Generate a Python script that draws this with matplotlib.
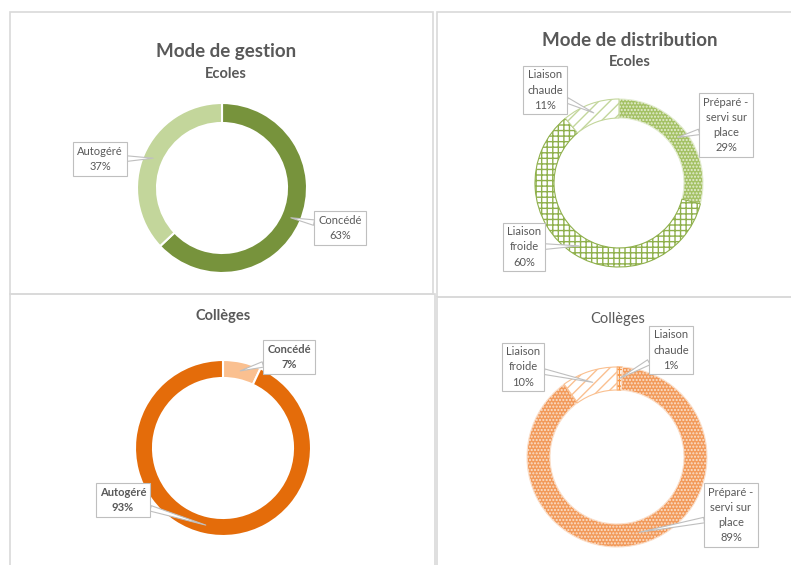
import numpy as np
import matplotlib
matplotlib.use("Agg")
import matplotlib.pyplot as plt
from matplotlib.patches import Rectangle

plt.rcParams['font.family'] = ['Lato', 'DejaVu Sans']
plt.rcParams['hatch.linewidth'] = 1.0

W, H = 791, 565
GREY = '#595959'
BORDER = '#D9D9D9'

# données
gestion_labels = ['Concédé', 'Autogéré']
gestion_ecoles = [63, 37]
gestion_colleges_labels = ['Concédé', 'Autogéré']
gestion_colleges = [7, 93]

distrib_ecoles_labels = ['Préparé -\nservi sur\nplace', 'Liaison\nfroide', 'Liaison\nchaude']
distrib_ecoles = [29, 60, 11]
distrib_colleges_labels = ['Liaison\nchaude', 'Préparé -\nservi sur\nplace', 'Liaison\nfroide']
distrib_colleges = [1, 89, 10]


def Y(y):
    # pixel depuis le haut -> coordonnee de l'axe
    return H - y


def donut(ax, values, center, r, width, styles):
    wedges, _ = ax.pie(values, startangle=90, counterclock=False, radius=r,
                       center=(center[0], Y(center[1])), frame=True,
                       wedgeprops=dict(width=width))
    for w, st in zip(wedges, styles):
        w.set_facecolor(st['fc'])
        w.set_edgecolor(st['ec'])
        w.set_linewidth(st.get('lw', 0.8))
        if 'hatch' in st:
            w.set_hatch(st['hatch'])
    anchors = []
    for w in wedges:
        th = np.deg2rad((w.theta1 + w.theta2) / 2)
        rr = r - width / 2
        anchors.append((center[0] + rr * np.cos(th), Y(center[1]) + rr * np.sin(th)))
    return anchors


def label(ax, text, anchor, pos, bold=False):
    ax.annotate(text, xy=anchor, xytext=(pos[0], Y(pos[1])), ha='center', va='center',
                fontsize=8, color=GREY, fontweight='bold' if bold else 'normal',
                linespacing=1.45,
                bbox=dict(boxstyle='square,pad=0.35', fc='white', ec='#BFBFBF', lw=0.8),
                arrowprops=dict(arrowstyle='wedge,tail_width=0.5', fc='white', ec='#BFBFBF',
                                lw=0.8, shrinkA=0, shrinkB=0), zorder=5)


fig = plt.figure(figsize=(W / 100, H / 100), dpi=100)
ax = fig.add_axes([0, 0, 1, 1])

# cadres
for (x0, y0, x1, y1) in [(10, 12, 433, 294), (10, 294, 435, 600),
                         (437, 12, 800, 297), (437, 297, 800, 600)]:
    ax.add_patch(Rectangle((x0, Y(y1)), x1 - x0, y1 - y0, fill=False, ec=BORDER, lw=1.2, zorder=0))

# Mode de gestion - Ecoles
a = donut(ax, gestion_ecoles, (222, 188), 85, 20,
          [dict(fc='#77933C', ec='white', lw=1.5), dict(fc='#C3D69B', ec='white', lw=1.5)])
label(ax, f'{gestion_labels[0]}\n{gestion_ecoles[0]}%', a[0], (340, 228))
label(ax, f'{gestion_labels[1]}\n{gestion_ecoles[1]}%', a[1], (100, 159))
ax.text(226, Y(51), 'Mode de gestion', ha='center', va='center', fontsize=13.5, fontweight='bold', color=GREY)
ax.text(226, Y(74), 'Ecoles', ha='center', va='center', fontsize=10.5, fontweight='bold', color=GREY)

# Mode de gestion - Collèges
a = donut(ax, gestion_colleges, (223, 448), 88, 18,
          [dict(fc='#FAC090', ec='white', lw=1.5), dict(fc='#E46C0A', ec='white', lw=1.5)])
label(ax, f'{gestion_colleges_labels[0]}\n{gestion_colleges[0]}%', a[0], (289, 357), bold=True)
label(ax, f'{gestion_colleges_labels[1]}\n{gestion_colleges[1]}%', a[1], (123, 500), bold=True)
ax.text(223, Y(316), 'Collèges', ha='center', va='center', fontsize=10.5, fontweight='bold', color=GREY)

# Mode de distribution - Ecoles
a = donut(ax, distrib_ecoles, (619, 183), 84, 19,
          [dict(fc='#A4C164', ec='#E4EDD2', hatch='.....'),
           dict(fc='white', ec='#8FB04C', hatch='+++'),
           dict(fc='white', ec='#C3D69B', hatch='///')])
label(ax, f'{distrib_ecoles_labels[0]}\n{distrib_ecoles[0]}%', a[0], (726, 125))
label(ax, f'{distrib_ecoles_labels[1]}\n{distrib_ecoles[1]}%', a[1], (524, 247))
label(ax, f'{distrib_ecoles_labels[2]}\n{distrib_ecoles[2]}%', a[2], (545, 90))
ax.text(630, Y(40), 'Mode de distribution', ha='center', va='center', fontsize=13.5, fontweight='bold', color=GREY)
ax.text(630, Y(62), 'Ecoles', ha='center', va='center', fontsize=10.5, fontweight='bold', color=GREY)

# Mode de distribution - Collèges
a = donut(ax, distrib_colleges, (617, 457), 90, 23,
          [dict(fc='white', ec='#F79646', hatch='+++'),
           dict(fc='#F29A5A', ec='#FBE0CC', hatch='.....'),
           dict(fc='white', ec='#FAC090', hatch='///')])
label(ax, f'{distrib_colleges_labels[0]}\n{distrib_colleges[0]}%', a[0], (671, 350))
label(ax, f'{distrib_colleges_labels[1]}\n{distrib_colleges[1]}%', a[1], (731, 515))
label(ax, f'{distrib_colleges_labels[2]}\n{distrib_colleges[2]}%', a[2], (523, 367))
ax.text(618, Y(319), 'Collèges', ha='center', va='center', fontsize=10.5, color=GREY)

ax.set_xlim(0, W)
ax.set_ylim(0, H)
ax.set_aspect('equal')
ax.axis('off')

fig.savefig('out.png', dpi=100)
